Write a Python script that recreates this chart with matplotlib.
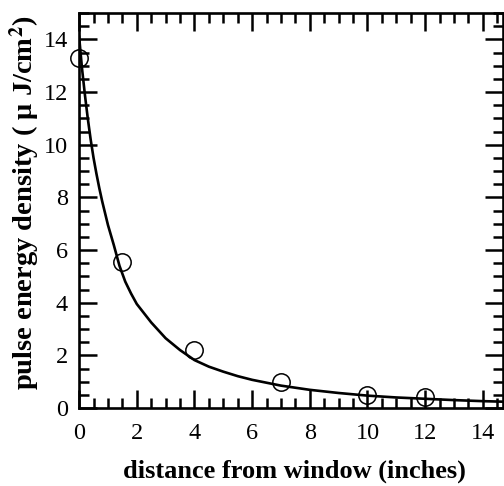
import matplotlib
matplotlib.use("Agg")
import matplotlib.pyplot as plt
from matplotlib.ticker import MultipleLocator

plt.rcParams['font.family'] = ['Liberation Serif', 'DejaVu Serif']
plt.rcParams['mathtext.fontset'] = 'stix'

# measured points
dist = [0, 1.5, 4, 7, 10, 12]
energy = [13.3, 5.55, 2.2, 1.0, 0.5, 0.42]

# fitted curve
fit_x = [0, 0.1, 0.2, 0.3, 0.4, 0.5, 0.6, 0.7, 0.8, 0.9, 1.0, 1.2, 1.4,
         1.6, 1.8, 2.0, 2.5, 3.0, 3.5, 4.0, 4.5, 5, 5.5, 6, 7, 8, 9, 10,
         11, 12, 13, 14, 14.7]
fit_y = [14.1, 12.9, 11.9, 11.0, 10.2, 9.5, 8.9, 8.35, 7.85, 7.4, 6.95,
         6.2, 5.4, 4.8, 4.35, 3.95, 3.25, 2.65, 2.2, 1.82, 1.57, 1.38,
         1.21, 1.07, 0.85, 0.69, 0.57, 0.47, 0.40, 0.35, 0.30, 0.26, 0.24]

fig = plt.figure(figsize=(5.04, 4.86), dpi=100)
ax = fig.add_axes([0.157, 0.1605, 0.841, 0.8125])

ax.plot(fit_x, fit_y, color='black', lw=1.9, zorder=2)
ax.plot(dist, energy, 'o', mfc='none', mec='black', mew=1.1, ms=12.5,
        zorder=3, clip_on=False)

ax.set_xlim(0, 14.7)
ax.set_ylim(0, 15)
ax.xaxis.set_major_locator(MultipleLocator(2))
ax.xaxis.set_minor_locator(MultipleLocator(0.5))
ax.yaxis.set_major_locator(MultipleLocator(2))
ax.yaxis.set_minor_locator(MultipleLocator(0.5))

ax.tick_params(which='both', direction='in', top=True, right=True,
               width=1.8, labelsize=17.5)
ax.tick_params(which='major', length=13)
ax.tick_params(which='minor', length=7)
ax.tick_params(axis='x', which='major', pad=11)
ax.tick_params(axis='y', which='major', pad=8)
for s in ax.spines.values():
    s.set_linewidth(1.9)

ax.set_xlabel('distance from window (inches)', fontsize=19,
              fontweight='bold', va='top')
ax.xaxis.set_label_coords(0.509, -0.13)
ax.set_ylabel(r'pulse energy density ( μ J/cm$^{\mathbf{2}}$)', fontsize=20.5,
              fontweight='bold', va='center')
ax.yaxis.set_label_coords(-0.127, 0.52)

fig.savefig('out.png', dpi=100)
